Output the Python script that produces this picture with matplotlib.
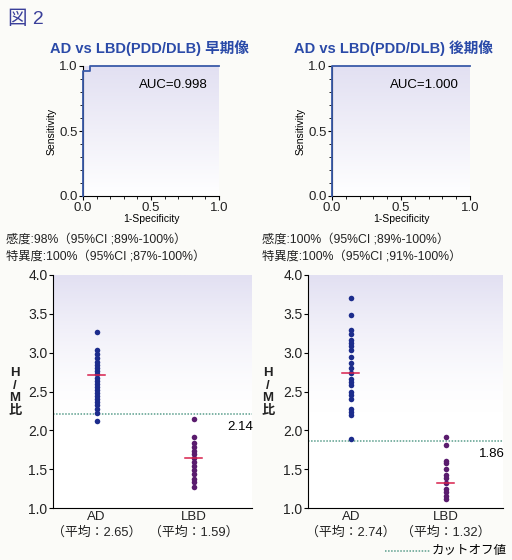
import numpy as np
import matplotlib
matplotlib.use("Agg")
import matplotlib.pyplot as plt
from matplotlib.colors import LinearSegmentedColormap

plt.rcParams['font.family'] = ['Liberation Sans', 'Noto Sans CJK JP', 'DejaVu Sans']

# ROC data
roc_early_fpr = [0.0, 0.0, 0.05, 0.05, 1.0]
roc_early_tpr = [0.0, 0.96, 0.96, 1.0, 1.0]
roc_late_fpr = [0.0, 0.0, 1.0]
roc_late_tpr = [0.0, 1.0, 1.0]
auc_labels = ["AUC=0.998", "AUC=1.000"]
titles = ["AD vs LBD(PDD/DLB) 早期像", "AD vs LBD(PDD/DLB) 後期像"]
sens_text = ["感度:98%（95%CI ;89%-100%）", "感度:100%（95%CI ;89%-100%）"]
spec_text = ["特異度:100%（95%CI ;87%-100%）", "特異度:100%（95%CI ;91%-100%）"]

# H/M ratio data
early_ad = [3.26, 3.03, 2.98, 2.93, 2.88, 2.84, 2.80, 2.76, 2.72, 2.68, 2.64, 2.60,
            2.56, 2.52, 2.48, 2.44, 2.40, 2.36, 2.32, 2.27, 2.22, 2.12]
early_lbd = [2.14, 1.91, 1.84, 1.79, 1.74, 1.69, 1.64, 1.59, 1.54, 1.49, 1.44, 1.37, 1.33, 1.27]
late_ad = [3.70, 3.49, 3.29, 3.24, 3.16, 3.12, 3.08, 3.03, 2.94, 2.87, 2.80, 2.74,
           2.66, 2.62, 2.58, 2.50, 2.45, 2.40, 2.28, 2.24, 2.20, 1.89]
late_lbd = [1.91, 1.81, 1.61, 1.58, 1.50, 1.42, 1.38, 1.32, 1.25, 1.20, 1.16, 1.11]
early_means = [2.71, 1.64]
late_means = [2.74, 1.32]
early_cut, late_cut = 2.21, 1.86
early_cut_label, late_cut_label = "2.14", "1.86"
groups = ["AD", "LBD"]
mean_labels_early = ["（平均：2.65）", "（平均：1.59）"]
mean_labels_late = ["（平均：2.74）", "（平均：1.32）"]

W, H = 512, 560
fig = plt.figure(figsize=(5.12, 5.6), dpi=100, facecolor='#fbfbf8')

def ax_at(x0, y0, x1, y1):
    return fig.add_axes([x0 / W, 1 - y1 / H, (x1 - x0) / W, (y1 - y0) / H])

lav = LinearSegmentedColormap.from_list('lav', ['#ffffff', '#e2e0f2'])
title_col = '#2a4aa8'
txt_col = '#222222'

fig.text(8 / W, 1 - 19 / H, "図 2", fontsize=14, color='#3a3f9a', va='center')

def roc(ax, fpr, tpr, auc):
    ax.set_xlim(0, 1)
    ax.set_ylim(0, 1)
    grad = np.linspace(0, 1, 100).reshape(-1, 1)
    ax.imshow(grad, extent=[0, 1, 0, 1], origin='lower', aspect='auto', cmap=lav, zorder=0)
    ax.plot(fpr, tpr, color='#3a5aa8', lw=1.3, zorder=3, clip_on=False)
    ax.set_facecolor('none')
    for s in ['top', 'right']:
        ax.spines[s].set_visible(False)
    ax.set_xticks([0, 0.5, 1.0])
    ax.set_yticks([0, 0.5, 1.0])
    ax.set_xticklabels(["0.0", "0.5", "1.0"])
    ax.set_yticklabels(["0.0", "0.5", "1.0"])
    ax.set_xticks(np.arange(0, 1.01, 0.1), minor=True)
    ax.set_yticks(np.arange(0, 1.01, 0.1), minor=True)
    ax.tick_params(labelsize=9.5, length=3, pad=1, labelcolor=txt_col)
    ax.tick_params(which='minor', length=2)
    ax.set_xlabel("1-Specificity", fontsize=7.5, labelpad=0)
    ax.set_ylabel("Sensitivity", fontsize=7.5, labelpad=2)
    ax.text(0.92, 0.85, auc, fontsize=9.5, ha='right', va='center', transform=ax.transAxes)

ax1 = ax_at(83, 66, 219, 196)
roc(ax1, roc_early_fpr, roc_early_tpr, auc_labels[0])
ax2 = ax_at(332, 66, 470, 196)
roc(ax2, roc_late_fpr, roc_late_tpr, auc_labels[1])

fig.text(150 / W, 1 - 48 / H, titles[0], fontsize=10.5, color=title_col, ha='center', va='center', weight='bold')
fig.text(393 / W, 1 - 48 / H, titles[1], fontsize=10.5, color=title_col, ha='center', va='center', weight='bold')
for x0, s1, s2 in [(6, sens_text[0], spec_text[0]), (262, sens_text[1], spec_text[1])]:
    fig.text(x0 / W, 1 - 240 / H, s1, fontsize=8.8, va='center', color=txt_col)
    fig.text(x0 / W, 1 - 257 / H, s2, fontsize=8.8, va='center', color=txt_col)

def dots(ax, ad, lbd, means, cut, cut_label, label_y, mean_labels, ylab_x):
    ax.set_xlim(0.55, 2.6)
    ax.set_ylim(1.0, 4.0)
    grad = np.linspace(0, 1, 100).reshape(-1, 1) ** 1.5
    ax.imshow(grad, extent=[0.55, 2.6, 2.2, 4.0], origin='lower', aspect='auto', cmap=lav, zorder=0)
    ax.set_facecolor('white')
    ax.axhline(cut, color='#5a9e8c', lw=1.1, ls=(0, (1, 1)), zorder=1)
    ax.scatter(np.ones(len(ad)), ad, s=16, color='#1c2c8c', zorder=3, lw=0)
    ax.scatter(np.full(len(lbd), 2), lbd, s=16, color='#5a1c6e', zorder=3, lw=0)
    for x, m in zip([1, 2], means):
        ax.plot([x - 0.09, x + 0.09], [m, m], color='#d8204c', lw=1.1, zorder=4)
    ax.text(2.48, label_y, cut_label, fontsize=9.5, ha='center', va='center')
    for s in ['top', 'right']:
        ax.spines[s].set_visible(False)
    ax.set_yticks(np.arange(1.0, 4.01, 0.5))
    ax.set_yticklabels([f"{v:.1f}" for v in np.arange(1.0, 4.01, 0.5)])
    ax.set_xticks([1, 2])
    ax.set_xticklabels(groups)
    ax.tick_params(axis='y', labelsize=10, length=3, pad=1, labelcolor=txt_col)
    ax.tick_params(axis='x', labelsize=9.5, length=0, pad=2, labelcolor=txt_col)
    for x, lab in zip([1, 2], mean_labels):
        ax.annotate(lab, (x, 0), xycoords=('data', 'axes fraction'), xytext=(0, -13),
                    textcoords='offset points', ha='center', va='top', fontsize=9.3, color=txt_col)
    fig.text(ylab_x / W, 1 - 392 / H, "H\n/\nM\n比", fontsize=9.5, linespacing=1.05,
             ha='center', va='center', weight='bold', color=txt_col)

ax3 = ax_at(53, 275, 252, 508)
dots(ax3, early_ad, early_lbd, early_means, early_cut, early_cut_label, 2.04, mean_labels_early, 15)
ax4 = ax_at(308, 275, 503, 508)
dots(ax4, late_ad, late_lbd, late_means, late_cut, late_cut_label, 1.7, mean_labels_late, 268)

fig.add_artist(plt.Line2D([385 / W, 430 / W], [1 - 551 / H, 1 - 551 / H], color='#5a9e8c', lw=1.1, ls=(0, (1, 1))))
fig.text(432 / W, 1 - 551 / H, "カットオフ値", fontsize=9, va='center')

fig.savefig("out.png", dpi=100, facecolor=fig.get_facecolor())
